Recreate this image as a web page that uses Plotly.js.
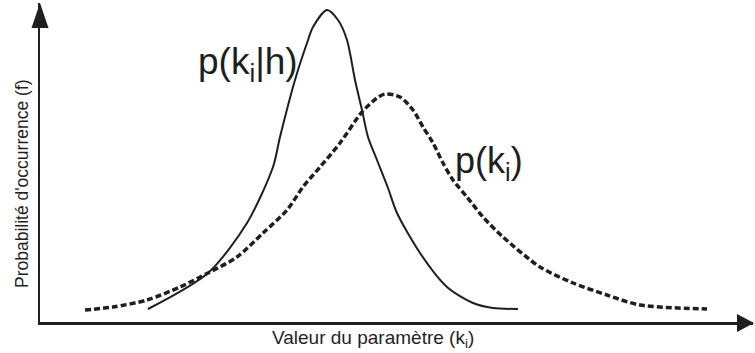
<!DOCTYPE html>
<html>
<head>
<meta charset="utf-8">
<script src="https://cdn.plot.ly/plotly-3.0.1.min.js"></script>
<style>
  html, body { margin: 0; padding: 0; background: #fff; }
  #chart { width: 755px; height: 353px; }
</style>
</head>
<body>
<div id="chart"></div>
<script>
/* Data (arbitrary units, origin at the axes corner) */
var xPosterior = [108, 168, 207, 233, 240, 255, 267, 273, 287, 298, 307, 315, 322, 328, 337, 348, 357, 380, 407, 433, 453, 478];
var yPosterior = [13, 49, 99, 155, 185, 242, 279, 295, 312, 302, 282, 242, 212, 185, 162, 134, 109, 69, 35, 19, 14, 13];

var xPrior = [45, 73, 107, 140, 168, 197, 223, 247, 263, 280, 300, 322, 337, 345, 360, 373, 383, 393, 403, 413, 427, 443, 463, 500, 533, 567, 600, 667];
var yPrior = [12, 15, 22, 35, 49, 65, 89, 112, 135, 155, 179, 210, 224, 228, 225, 212, 195, 179, 159, 142, 125, 105, 85, 55, 39, 27, 17, 13];

var labelPosterior = 'p(k<sub>i</sub>|h)';
var labelPrior = 'p(k<sub>i</sub>)';
var xTitle = 'Valeur du paramètre (k<sub>i</sub>)';
var yTitle = 'Probabilité d\'occurrence (f)';

/* pixel -> paper helpers for the decorations */
var L = 40, R = 753, T = 3, B = 322;
function px(x) { return (x - L) / (R - L); }
function py(y) { return (B - y) / (B - T); }

var ink = '#1f1f1f';

var trace1 = {
  x: xPosterior,
  y: yPosterior,
  mode: 'lines',
  type: 'scatter',
  line: { color: ink, width: 2, shape: 'spline', smoothing: 0.8 }
};
var trace2 = {
  x: xPrior,
  y: yPrior,
  mode: 'lines',
  type: 'scatter',
  line: { color: ink, width: 3.5, dash: '6px,3px', shape: 'spline', smoothing: 0.8 }
};

var font = 'Arial, "Liberation Sans", sans-serif';

function label(text, x, y, size, angle) {
  return {
    text: text, xref: 'paper', yref: 'paper', x: px(x), y: py(y),
    xanchor: 'center', yanchor: 'middle', textangle: angle || 0,
    showarrow: false, font: { family: font, size: size, color: ink }
  };
}

var layout = {
  width: 755,
  height: 353,
  margin: { l: L, r: 755 - R, t: T, b: 353 - B },
  paper_bgcolor: '#fff',
  plot_bgcolor: '#fff',
  showlegend: false,
  xaxis: {
    range: [0, R - L],
    showgrid: false, zeroline: false, showticklabels: false, ticks: '',
    showline: true, linecolor: ink, linewidth: 2.5
  },
  yaxis: {
    range: [0, B - T],
    showgrid: false, zeroline: false, showticklabels: false, ticks: '',
    showline: true, linecolor: ink, linewidth: 2.5
  },
  shapes: [
    { // y arrow head
      type: 'path', xref: 'paper', yref: 'paper',
      path: 'M ' + px(40) + ' ' + py(3) + ' L ' + px(31.5) + ' ' + py(28) + ' L ' + px(48.5) + ' ' + py(28) + ' Z',
      fillcolor: ink, line: { width: 0 }
    },
    { // x arrow head
      type: 'path', xref: 'paper', yref: 'paper',
      path: 'M ' + px(754) + ' ' + py(323) + ' L ' + px(737) + ' ' + py(314) + ' L ' + px(737) + ' ' + py(332) + ' Z',
      fillcolor: ink, line: { width: 0 }
    }
  ],
  annotations: [
    label(xTitle, 373, 339, 19),
    label(yTitle, 22, 184, 17.5, -90),
    label(labelPosterior, 248, 64, 37),
    label(labelPrior, 489, 163, 36)
  ]
};

Plotly.newPlot('chart', [trace1, trace2], layout, { staticPlot: true });
</script>
</body>
</html>
